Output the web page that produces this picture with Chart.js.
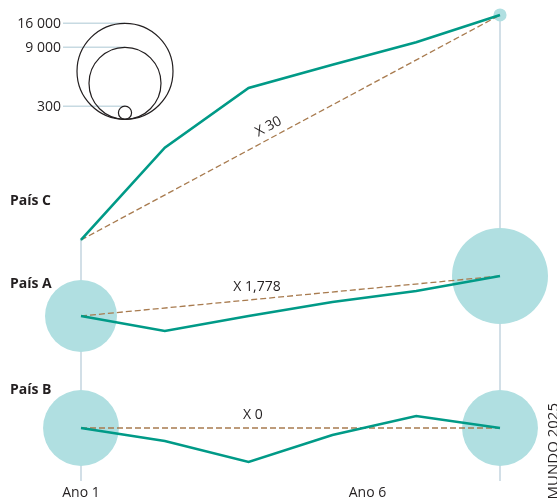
<!DOCTYPE html>
<html lang="pt">
<head>
<meta charset="utf-8">
<title>Crescimento por país</title>
<script src="https://cdn.jsdelivr.net/npm/chart.js@4.4.1/dist/chart.umd.min.js"></script>
<style>
  html, body { margin: 0; padding: 0; background: #ffffff; }
  canvas { display: block; }
</style>
</head>
<body>
<canvas id="chart" width="557" height="499"></canvas>
<script>
// Years on the horizontal axis and the two labelled ticks
const years = [1, 2, 3, 4, 5, 6];
const tickYears = [1, 6];
const tickLabels = ['Ano 1', 'Ano 6'];

// Country names, top to bottom
const countries = ['País C', 'País A', 'País B'];

// Yearly values per country (same unit as the bubble sizes)
const paisC = [10, 129, 206, 236, 265, 300];
const paisA = [9000, 6375, 9000, 11450, 13375, 16000];
const paisB = [10000, 7725, 4050, 8775, 12100, 10000];

// Growth between first and last year
const growthLabels = ['X 30', 'X 1,778', 'X 0'];

// Bubble size key
const legendValues = [16000, 9000, 300];
const sideNote = 'MUNDO 2025';

const FONT = "'Open Sans', 'Noto Sans', sans-serif";
const INK = '#231f20';
const TEAL = '#009a87';
const BUBBLE = '#b0dfe1';
const BROWN = '#a87b4f';
const GUIDE = '#d2dfe7';
const KEY_LINE = '#c7dae2';

const MAX_RADIUS = 48;
const maxValue = Math.max(...legendValues);
const radius = v => MAX_RADIUS * Math.sqrt(v / maxValue);

const series = [
  { name: countries[0], values: paisC, axis: 'yC' },
  { name: countries[1], values: paisA, axis: 'yA' },
  { name: countries[2], values: paisB, axis: 'yB' }
];

const firstYear = years[0];
const lastYear = years[years.length - 1];

const datasets = [];
series.forEach(s => {
  const first = s.values[0];
  const last = s.values[s.values.length - 1];
  datasets.push({
    type: 'bubble',
    label: s.name,
    data: [
      { x: firstYear, y: first, r: radius(first) },
      { x: lastYear, y: last, r: radius(last) }
    ],
    backgroundColor: BUBBLE,
    borderWidth: 0,
    hoverRadius: 0,
    yAxisID: s.axis,
    order: 3,
    clip: false
  });
  datasets.push({
    type: 'line',
    label: s.name + ' (início-fim)',
    data: [{ x: firstYear, y: first }, { x: lastYear, y: last }],
    borderColor: BROWN,
    borderWidth: 1.3,
    borderDash: [6, 3],
    pointRadius: 0,
    yAxisID: s.axis,
    order: 2,
    clip: false
  });
  datasets.push({
    type: 'line',
    label: s.name,
    data: years.map((x, i) => ({ x, y: s.values[i] })),
    borderColor: TEAL,
    borderWidth: 2.6,
    pointRadius: 0,
    tension: 0,
    yAxisID: s.axis,
    order: 1,
    clip: false
  });
});

// Placement of the growth labels along each dashed line
const growthPlacement = [
  { t: 0.46, offset: 11, rotate: true },
  { t: 0.42, offset: 12, rotate: false },
  { t: 0.41, offset: 12.5, rotate: false }
];
const nameBaselines = [205, 288, 394];

const overlay = {
  id: 'overlay',
  beforeDatasetsDraw(chart) {
    const { ctx, chartArea, scales } = chart;
    const top = series[0];
    ctx.save();
    ctx.strokeStyle = GUIDE;
    ctx.lineWidth = 2;
    [0, years.length - 1].forEach(i => {
      const x = scales.x.getPixelForValue(years[i]);
      const y = scales[top.axis].getPixelForValue(top.values[i]);
      ctx.beginPath();
      ctx.moveTo(x, y);
      ctx.lineTo(x, chartArea.bottom);
      ctx.stroke();
    });
    ctx.restore();
  },
  afterDatasetsDraw(chart) {
    const { ctx, scales, chartArea } = chart;
    ctx.save();

    // Growth factors
    ctx.fillStyle = INK;
    ctx.font = `14px ${FONT}`;
    ctx.textAlign = 'center';
    ctx.textBaseline = 'middle';
    series.forEach((s, k) => {
      const ys = scales[s.axis];
      const x1 = scales.x.getPixelForValue(firstYear);
      const x2 = scales.x.getPixelForValue(lastYear);
      const y1 = ys.getPixelForValue(s.values[0]);
      const y2 = ys.getPixelForValue(s.values[s.values.length - 1]);
      const p = growthPlacement[k];
      const px = x1 + p.t * (x2 - x1);
      const py = y1 + p.t * (y2 - y1);
      if (p.rotate) {
        const a = Math.atan2(y2 - y1, x2 - x1);
        ctx.save();
        ctx.translate(px + p.offset * Math.sin(a), py - p.offset * Math.cos(a));
        ctx.rotate(a);
        ctx.fillText(growthLabels[k], 0, 0);
        ctx.restore();
      } else {
        ctx.fillText(growthLabels[k], px, py - p.offset);
      }
    });

    // Year labels under the chart
    ctx.textBaseline = 'alphabetic';
    const yearLabelX = [scales.x.getPixelForValue(tickYears[0]), 367.5];
    tickLabels.forEach((t, i) => ctx.fillText(t, yearLabelX[i], chartArea.bottom + 16));

    // Country names
    ctx.font = `bold 14px ${FONT}`;
    ctx.textAlign = 'left';
    series.forEach((s, k) => ctx.fillText(s.name, 10, nameBaselines[k]));

    // Bubble size key
    const cx = 125, bottom = 119.3;
    ctx.font = `14px ${FONT}`;
    ctx.textAlign = 'right';
    legendValues.forEach(v => {
      const r = radius(v);
      const top = bottom - 2 * r;
      ctx.strokeStyle = KEY_LINE;
      ctx.lineWidth = 1.5;
      ctx.beginPath();
      ctx.moveTo(63, top);
      ctx.lineTo(cx, top);
      ctx.stroke();
      ctx.fillStyle = INK;
      ctx.fillText(v.toLocaleString('fr-FR').replace(/\u202f|\u00a0/g, ' '), 61, top + 5);
    });
    ctx.strokeStyle = INK;
    ctx.lineWidth = 1.2;
    legendValues.forEach(v => {
      const r = radius(v);
      ctx.beginPath();
      ctx.arc(cx, bottom - r, r, 0, Math.PI * 2);
      ctx.stroke();
    });

    // Vertical note on the right edge
    ctx.save();
    ctx.translate(557.5, 403);
    ctx.rotate(-Math.PI / 2);
    ctx.font = `15px ${FONT}`;
    ctx.textAlign = 'right';
    ctx.fillStyle = INK;
    ctx.fillText(sideNote, 0, 0);
    ctx.restore();

    ctx.restore();
  }
};

const hiddenY = (weight, stackWeight, min, max) => ({
  type: 'linear',
  position: 'left',
  stack: 'paises',
  stackWeight,
  weight,
  min,
  max,
  display: false,
  ticks: { display: false },
  grid: { display: false }
});

new Chart(document.getElementById('chart'), {
  type: 'line',
  data: { datasets },
  options: {
    responsive: false,
    animation: false,
    events: [],
    layout: { autoPadding: false, padding: { left: 81, right: 57, top: 0, bottom: 18 } },
    plugins: { legend: { display: false }, tooltip: { enabled: false } },
    scales: {
      x: {
        type: 'linear',
        position: 'bottom',
        min: firstYear,
        max: lastYear,
        display: false,
        afterBuildTicks: scale => { scale.ticks = tickYears.map(v => ({ value: v })); },
        ticks: { display: false },
        grid: { display: false }
      },
      yC: hiddenY(3, 260, -15.8, 319.3),
      yA: hiddenY(2, 110, -450, 18800),
      yB: hiddenY(1, 111, 725, 20150)
    }
  },
  plugins: [overlay]
});
</script>
</body>
</html>
